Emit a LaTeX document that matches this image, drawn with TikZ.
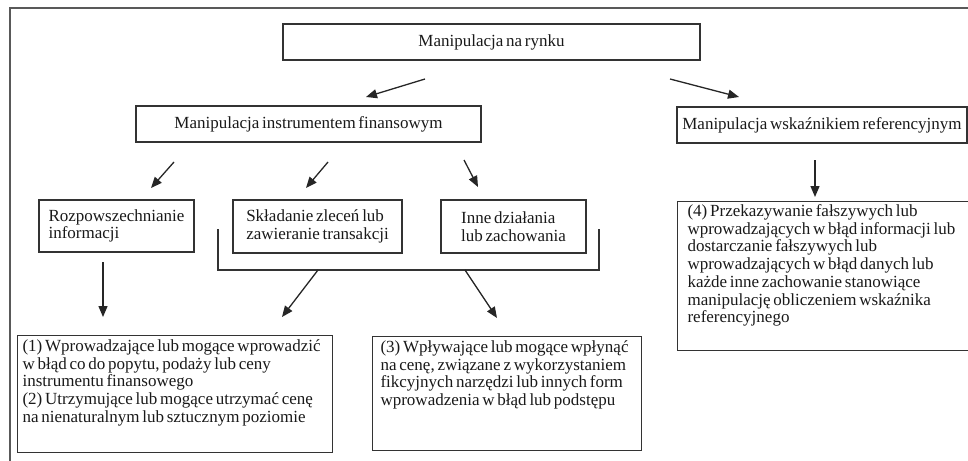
\documentclass[tikz,border=0pt]{standalone}
\usepackage{fontspec}
\setmainfont[WordSpace=0.65]{Liberation Serif}
\usetikzlibrary{arrows.meta}
\newcommand\dgfont{\fontsize{17}{17.7}\selectfont}
\begin{document}
\begin{tikzpicture}[x=1pt,y=-1pt,
  box/.style={draw=black!80, line width=1.1pt, inner sep=0pt, font=\dgfont, text=black!90},
  tbox/.style={box, anchor=north west, inner xsep=5pt, inner ysep=4pt},
  arr/.style={line width=1.3pt, black!85, -{Triangle[length=11pt,width=9pt]}},
  frame/.style={draw=black!65, line width=1.5pt}]
\useasboundingbox (0,0) rectangle (968,460);
\clip (0,0) rectangle (968,460);
\draw[frame] (10,8) rectangle (1000,500);

\node[box, minimum width=417pt, minimum height=36pt] (top) at (491.5,42) {Manipulacja na rynku};
\node[box, minimum width=345pt, minimum height=36pt] (instr) at (308.5,124) {Manipulacja instrumentem finansowym};
\node[box, minimum width=290pt, minimum height=36pt] (wsk) at (822,125) {Manipulacja wskaźnikiem referencyjnym};

\node[box, align=left, minimum width=155pt, minimum height=52pt] (rozp) at (116.5,226) {Rozpowszechnianie\\informacji};
\node[box, align=left, minimum width=169pt, minimum height=53pt] (skl) at (317.5,226.5) {Składanie zleceń lub\\zawieranie transakcji};
\node[box, align=left, minimum width=145pt, minimum height=53pt] (inne) at (513.5,226.5) {Inne działania\\lub zachowania};

\node[tbox] (b1) at (17,335) {\parbox[c][109pt][t]{305pt}{\raggedright
(1) Wprowadzające lub mogące wprowadzić\\
w błąd co do popytu, podaży lub ceny\\
instrumentu finansowego\\
(2) Utrzymujące lub mogące utrzymać cenę\\
na nienaturalnym lub sztucznym poziomie}};
\node[tbox, inner xsep=8pt] (b3) at (372,336) {\parbox[c][106pt][t]{253pt}{\raggedright
(3) Wpływające lub mogące wpłynąć\\
na cenę, związane z wykorzystaniem\\
fikcyjnych narzędzi lub innych form\\
wprowadzenia w błąd lub podstępu}};
\node[tbox, inner xsep=10pt, inner ysep=3pt] (b4) at (677,201) {\parbox[c][143pt][t]{290pt}{\raggedright
(4) Przekazywanie fałszywych lub\\
wprowadzających w błąd informacji lub\\
dostarczanie fałszywych lub\\
wprowadzających w błąd danych lub\\
każde inne zachowanie stanowiące\\
manipulację obliczeniem wskaźnika\\
referencyjnego}};

% bracket
\coordinate (brL) at (218,229);
\coordinate (brR) at (599,229);
\draw[line width=1.1pt, black!80] (brL) -- (218,270) -- (599,270) -- (brR);

\coordinate (a1s) at (425,79); \coordinate (a1e) at (366,97);
\coordinate (a2s) at (670,79); \coordinate (a2e) at (739,97);
\coordinate (b1s) at (174,162); \coordinate (b1e) at (151,188);
\coordinate (b2s) at (328,162); \coordinate (b2e) at (306,188);
\coordinate (b3s) at (464,160); \coordinate (b3e) at (478,187);
\coordinate (b4s) at (815,160); \coordinate (b4e) at (815,197);
\coordinate (c1s) at (103,262); \coordinate (c1e) at (103,317);
\coordinate (c2s) at (318,270); \coordinate (c2e) at (282,317);
\coordinate (c3s) at (465,270); \coordinate (c3e) at (497,318);

\foreach \a in {a1,a2,b1,b2,b3,b4,c1,c2,c3}
  \draw[arr] (\a s) -- (\a e);
\end{tikzpicture}
\end{document}
